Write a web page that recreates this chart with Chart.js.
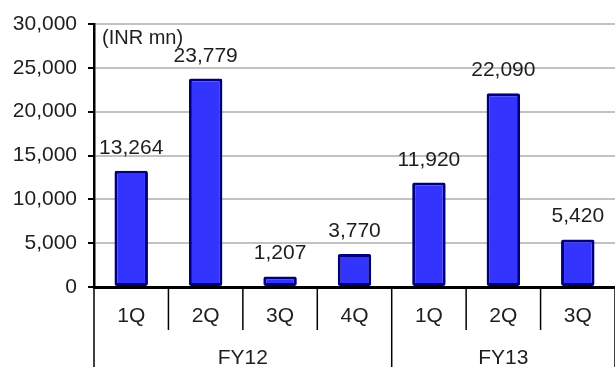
<!DOCTYPE html>
<html>
<head>
<meta charset="utf-8">
<script src="https://cdn.jsdelivr.net/npm/chart.js@4/dist/chart.umd.min.js"></script>
<style>
  html, body { margin: 0; padding: 0; background: #fff; }
  #wrap { width: 615px; height: 367px; }
</style>
</head>
<body>
<div id="wrap"><canvas id="c" width="615" height="367"></canvas></div>
<script>
// Quarterly values, INR mn
const quarters = ['1Q', '2Q', '3Q', '4Q', '1Q', '2Q', '3Q'];
const fiscalYears = ['FY12', 'FY12', 'FY12', 'FY12', 'FY13', 'FY13', 'FY13'];
const values = [13264, 23779, 1207, 3770, 11920, 22090, 5420];
const yTicks = [0, 5000, 10000, 15000, 20000, 25000, 30000];
const unitLabel = '(INR mn)';

const FONT = '"Liberation Sans", Arial, Helvetica, sans-serif';
const TEXT = '#1e1e1e';
const fmt = v => v.toLocaleString('en-US');

// Value labels above each bar, the unit note, and the two-level category axis
const annotate = {
  id: 'annotate',
  afterDatasetsDraw(chart) {
    const ctx = chart.ctx;
    const meta = chart.getDatasetMeta(0);
    ctx.save();
    ctx.font = '21px ' + FONT;
    ctx.fillStyle = TEXT;
    ctx.textAlign = 'center';
    ctx.textBaseline = 'alphabetic';
    meta.data.forEach((bar, i) => {
      ctx.fillText(fmt(values[i]), bar.x, bar.y - 17);
    });
    ctx.textAlign = 'left';
    ctx.textBaseline = 'middle';
    ctx.font = '20px ' + FONT;
    ctx.fillText(unitLabel, chart.chartArea.left + 8, 38);
    ctx.restore();
  },
  afterDraw(chart) {
    const ctx = chart.ctx;
    const xs = chart.scales.x;
    const area = chart.chartArea;
    const step = xs.getPixelForValue(1) - xs.getPixelForValue(0);
    const axisY = area.bottom;
    const innerBottom = axisY + 43;
    const fullBottom = chart.height;
    ctx.save();
    ctx.strokeStyle = '#000';
    ctx.lineWidth = 1.5;
    // separators between categories
    for (let i = 0; i <= quarters.length; i++) {
      const x = (i < quarters.length ? xs.getPixelForValue(i) : xs.getPixelForValue(i - 1) + step) - step / 2;
      const groupEdge = i === 0 || i === quarters.length || fiscalYears[i] !== fiscalYears[i - 1];
      ctx.beginPath();
      ctx.moveTo(x, axisY);
      ctx.lineTo(x, groupEdge ? fullBottom : innerBottom);
      ctx.stroke();
    }
    ctx.font = '21px ' + FONT;
    ctx.fillStyle = TEXT;
    ctx.textAlign = 'center';
    ctx.textBaseline = 'middle';
    quarters.forEach((q, i) => {
      ctx.fillText(q, xs.getPixelForValue(i), axisY + 29);
    });
    // fiscal year group labels
    let start = 0;
    for (let i = 1; i <= fiscalYears.length; i++) {
      if (i === fiscalYears.length || fiscalYears[i] !== fiscalYears[start]) {
        const left = xs.getPixelForValue(start) - step / 2;
        const right = xs.getPixelForValue(i - 1) + step / 2;
        ctx.fillText(fiscalYears[start], (left + right) / 2, axisY + 71);
        start = i;
      }
    }
    ctx.restore();
  }
};

new Chart(document.getElementById('c'), {
  type: 'bar',
  data: {
    labels: quarters,
    datasets: [{
      data: values,
      backgroundColor: '#3434FF',
      borderColor: '#00007F',
      borderWidth: 3,
      borderRadius: 2,
      borderSkipped: false,
      barPercentage: 0.45,
      categoryPercentage: 1
    }]
  },
  options: {
    responsive: false,
    animation: false,
    devicePixelRatio: 1,
    layout: { padding: { top: 24, right: 0, bottom: 80, left: 0 } },
    plugins: { legend: { display: false }, tooltip: { enabled: false } },
    scales: {
      x: {
        offset: true,
        grid: { display: false, drawTicks: false },
        border: { display: true, color: '#000', width: 3 },
        ticks: { display: false }
      },
      y: {
        min: 0,
        max: 30000,
        afterBuildTicks: scale => { scale.ticks = yTicks.map(v => ({ value: v })); },
        afterFit: scale => { scale.width = 94; },
        grid: { color: '#c2c2c2', lineWidth: 2, tickColor: '#000', tickLength: 6, tickWidth: 2 },
        border: { display: true, color: '#000', width: 2.5 },
        ticks: {
          padding: 11,
          color: TEXT,
          font: { family: FONT, size: 21 },
          callback: v => fmt(v)
        }
      }
    }
  },
  plugins: [annotate]
});
</script>
</body>
</html>
